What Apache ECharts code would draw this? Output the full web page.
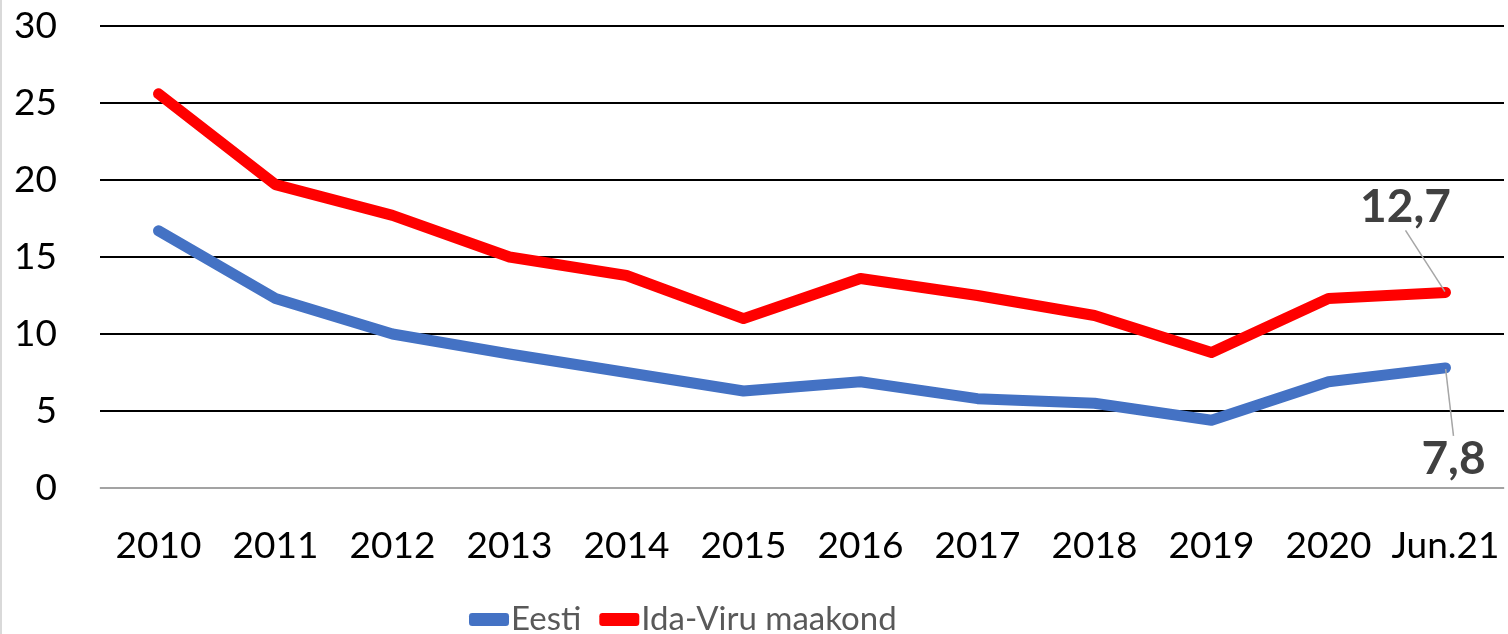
<!DOCTYPE html>
<html>
<head>
<meta charset="utf-8">
<script src="https://cdn.jsdelivr.net/npm/echarts@6/dist/echarts.min.js"></script>
<style>
html,body{margin:0;padding:0;background:#fff;}
#c{width:1508px;height:634px;box-sizing:border-box;border-left:2px solid #d9d9d9;}
</style>
</head>
<body>
<div id="c"></div>
<script>
const categories = ['2010','2011','2012','2013','2014','2015','2016','2017','2018','2019','2020','Jun.21'];
const eesti = [16.7, 12.3, 10.0, 8.7, 7.5, 6.3, 6.9, 5.8, 5.5, 4.4, 6.9, 7.8];
const idaViru = [25.6, 19.7, 17.7, 15.0, 13.8, 11.0, 13.6, 12.5, 11.2, 8.8, 12.3, 12.7];
const yTicks = [0, 5, 10, 15, 20, 25, 30];

const chart = echarts.init(document.getElementById('c'), null, {renderer:'canvas'});

function withLastLabel(values) {
  return values.map((v, i) => {
    if (i !== values.length - 1) return { value: v, symbol: 'none' };
    return {
      value: v,
      symbol: 'circle',
      symbolSize: 2,
      label: {
        show: true,
        position: 'inside',
        formatter: p => String(p.value).replace('.', ','),
        fontFamily: 'Lato',
        fontWeight: 'bold',
        fontSize: 46,
        color: '#404040'
      }
    };
  });
}

function layoutFor(dx, dy) {
  return function (params) {
    if (params.dataIndex === categories.length - 1) return { dx: dx, dy: dy };
    return {};
  };
}

chart.setOption({
  animation: false,
  grid: { left: 98, right: 4, top: 26, bottom: 146, containLabel: false },
  legend: {
    data: ['Eesti', 'Ida-Viru maakond'],
    left: 462,
    top: 598,
    itemWidth: 40,
    itemHeight: 13,
    itemGap: 18,
    icon: 'roundRect',
    textStyle: { fontFamily: 'Lato', fontSize: 33, color: '#595959', padding: [0,0,0,-3] }
  },
  xAxis: {
    type: 'category',
    data: categories,
    boundaryGap: true,
    axisLine: { show: true, lineStyle: { color: '#d9d9d9', width: 1.5 } },
    axisTick: { show: false },
    axisLabel: { interval: 0, fontFamily: 'Lato', fontSize: 37, color: '#000', margin: 40 }
  },
  yAxis: {
    type: 'value',
    min: yTicks[0],
    max: yTicks[yTicks.length - 1],
    interval: 5,
    axisLine: { show: false },
    axisTick: { show: false },
    axisLabel: { fontFamily: 'Lato', fontSize: 37, color: '#000', margin: 43 },
    splitLine: { lineStyle: { color: '#000', width: 2 } }
  },
  series: [
    {
      name: 'Eesti',
      type: 'line',
      data: withLastLabel(eesti),
      showSymbol: true,
      lineStyle: { color: '#4472C4', width: 11, cap: 'round', join: 'round' },
      itemStyle: { color: '#4472C4' },
      labelLine: { show: true, lineStyle: { color: '#a6a6a6', width: 1.5 } },
      labelLayout: layoutFor(8, 91),
      z: 3
    },
    {
      name: 'Ida-Viru maakond',
      type: 'line',
      data: withLastLabel(idaViru),
      showSymbol: true,
      lineStyle: { color: '#FF0000', width: 11, cap: 'round', join: 'round' },
      itemStyle: { color: '#FF0000' },
      labelLine: { show: true, lineStyle: { color: '#a6a6a6', width: 1.5 } },
      labelLayout: layoutFor(-40, -85),
      z: 3
    }
  ]
});
</script>
</body>
</html>
